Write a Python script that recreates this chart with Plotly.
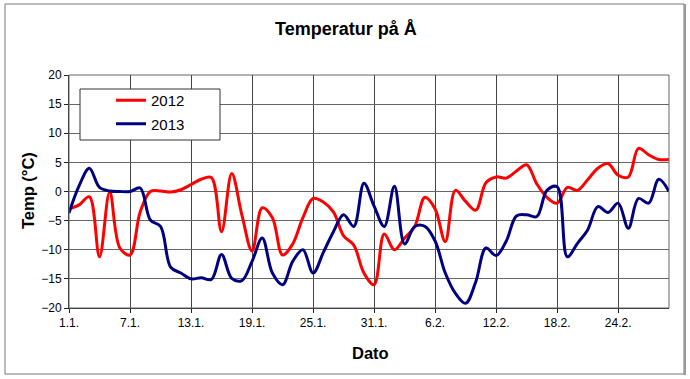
import plotly.graph_objects as go

# Daily temperatures, 1 Jan .. 29 Feb (60 days)
temp_2012 = [-3.0, -2.3, -0.9, -11.2, -0.1, -9.7, -10.9, -3.5, 0.0, 0.1,
             -0.1, 0.3, 1.2, 2.1, 2.4, -6.9, 3.1, -4.0, -10.2, -2.8,
             -4.5, -10.9, -9.0, -4.5, -1.2, -1.8, -3.5, -7.6, -9.2, -14.0,
             -16.0, -7.3, -10.0, -8.0, -6.0, -1.0, -3.0, -8.6, 0.2, -1.7,
             -3.2, 1.5, 2.5, 2.3, 3.5, 4.6, 1.3, -1.0, -2.0, 0.7,
             0.2, 2.0, 4.0, 4.8, 2.8, 2.5, 7.4, 6.3, 5.5, 5.5]

temp_2013 = [-3.7, 1.0, 4.0, 0.7, 0.1, 0.0, 0.0, 0.6, -4.9, -6.0,
             -13.0, -14.0, -15.0, -14.8, -15.1, -10.8, -14.9, -15.3, -12.0, -8.0,
             -14.0, -16.0, -12.0, -10.0, -14.0, -10.5, -6.9, -4.0, -6.0, 1.4,
             -2.5, -6.0, 0.9, -9.0, -6.0, -6.0, -8.5, -14.0, -17.5, -19.2,
             -15.5, -9.7, -11.0, -8.5, -4.2, -4.0, -4.3, 0.2, 0.8, -11.2,
             -8.9, -6.6, -2.6, -3.6, -2.0, -6.3, -1.2, -2.0, 2.1, 0.0]

tick_positions = [0, 6, 12, 18, 24, 30, 36, 42, 48, 54]
tick_labels = ["1.1.", "7.1.", "13.1.", "19.1.", "25.1.", "31.1.",
               "6.2.", "12.2.", "18.2.", "24.2."]
y_ticks = [-20, -15, -10, -5, 0, 5, 10, 15, 20]

days = list(range(len(temp_2012)))

fig = go.Figure()
fig.add_trace(go.Scatter(x=days, y=temp_2012, name="2012", mode="lines",
                         line=dict(color="#FF0000", width=3, shape="spline", smoothing=1.0),
                         legendgroup="a"))
fig.add_trace(go.Scatter(x=days, y=temp_2013, name="2013", mode="lines",
                         line=dict(color="#000080", width=3, shape="spline", smoothing=1.0),
                         legendgroup="b"))

W, H = 690, 379
L, R, T, B = 69, 21, 75, 71
pw, ph = W - L - R, H - T - B

def px(x):
    return (x - L) / pw

def py(y):
    return (H - B - y) / ph

font = "Arial, Liberation Sans, sans-serif"

fig.update_layout(
    width=W, height=H,
    margin=dict(l=L, r=R, t=T, b=B, pad=0),
    paper_bgcolor="white", plot_bgcolor="white",
    font=dict(family=font, size=12, color="black"),
    showlegend=True,
    legend=dict(x=px(111), y=py(84), xanchor="left", yanchor="top",
                borderwidth=0, bgcolor="rgba(0,0,0,0)",
                font=dict(size=15, family=font), tracegroupgap=1,
                itemwidth=30),
    xaxis=dict(range=[0, len(days) - 1], tickvals=tick_positions, ticktext=tick_labels,
               showgrid=True, gridcolor="#444444", gridwidth=1,
               showline=True, linecolor="#222222", linewidth=1, mirror=False,
               ticks="outside", ticklen=4, tickcolor="#222222",
               tickfont=dict(size=12), zeroline=False),
    yaxis=dict(range=[-20, 20], tickvals=y_ticks,
               showgrid=True, gridcolor="#666666", gridwidth=1,
               showline=True, linecolor="#222222", linewidth=1,
               ticks="outside", ticklen=4, tickcolor="#222222",
               tickfont=dict(size=12), zeroline=False),
    shapes=[
        dict(type="rect", xref="paper", yref="paper", x0=0, x1=1, y0=0, y1=1,
             line=dict(color="#666666", width=1), layer="above"),
        dict(type="rect", xref="paper", yref="paper",
             x0=px(5), x1=px(684), y0=py(374), y1=py(4),
             line=dict(color="#777777", width=1)),
        dict(type="line", xref="paper", yref="paper",
             x0=px(685), x1=px(685), y0=py(375), y1=py(4),
             line=dict(color="#999999", width=2)),
        # legend frame
        dict(type="rect", xref="paper", yref="paper",
             x0=px(80), x1=px(220), y0=py(140), y1=py(89),
             line=dict(color="#333333", width=1), fillcolor="white", layer="above"),
    ],
    annotations=[
        dict(text="<b>Temperatur på Å</b>", xref="paper", yref="paper",
             x=px(346), y=py(29), xanchor="center", yanchor="middle",
             showarrow=False, font=dict(size=18, family=font)),
        dict(text="<b>Temp (°C)</b>", xref="paper", yref="paper", textangle=-90,
             x=px(28), y=py(191), xanchor="center", yanchor="middle",
             showarrow=False, font=dict(size=16.5, family=font)),
        dict(text="<b>Dato</b>", xref="paper", yref="paper",
             x=px(370), y=py(353), xanchor="center", yanchor="middle",
             showarrow=False, font=dict(size=16.5, family=font)),
    ],
)

fig.write_html("out.html", config={"displayModeBar": False},
               post_script="document.body.style.margin='0px';document.body.style.padding='0px';")
